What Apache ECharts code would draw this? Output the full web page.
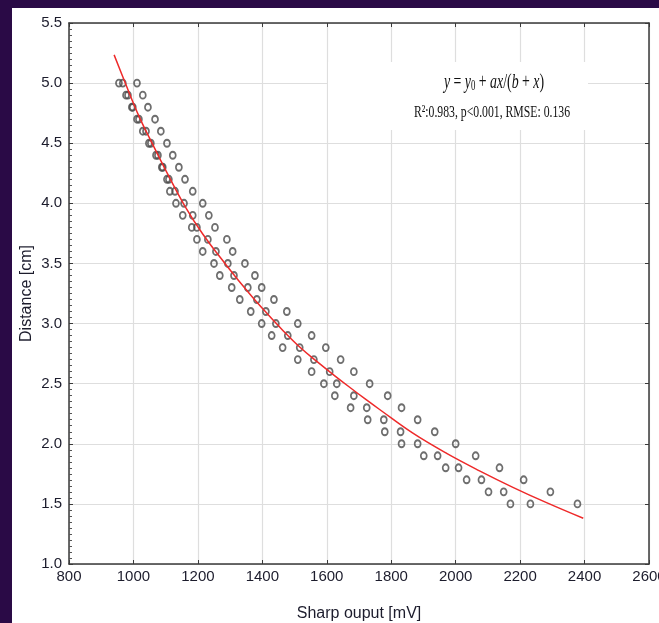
<!DOCTYPE html>
<html>
<head>
<meta charset="utf-8">
<script src="https://cdn.jsdelivr.net/npm/echarts@6/dist/echarts.min.js"></script>
<style>
html,body{margin:0;padding:0;background:#2a0a46;}
#chart{width:659px;height:623px;}
</style>
</head>
<body>
<div id="chart"></div>
<script>
// Distance levels [cm]
var distances = [5.0,4.9,4.8,4.7,4.6,4.5,4.4,4.3,4.2,4.1,4.0,3.9,3.8,3.7,3.6,3.5,3.4,3.3,3.2,3.1,3.0,2.9,2.8,2.7,2.6,2.5,2.4,2.3,2.2,2.1,2.0,1.9,1.8,1.7,1.6,1.5];
// Sharp sensor output [mV], three measurement runs
var sharpRun1 = [955,977,995,1011,1029,1048,1070,1088,1104,1113,1132,1153,1181,1197,1215,1250,1268,1305,1330,1364,1398,1429,1463,1510,1553,1591,1625,1674,1727,1780,1832,1901,1969,2034,2102,2170];
var sharpRun2 = [967,983,998,1017,1039,1054,1076,1091,1110,1129,1157,1184,1197,1231,1256,1293,1312,1355,1383,1411,1442,1479,1516,1560,1609,1631,1684,1724,1777,1829,1882,1944,2009,2080,2149,2232];
var sharpRun3 = [1011,1029,1045,1067,1085,1104,1122,1141,1160,1184,1215,1234,1253,1290,1308,1346,1377,1398,1436,1476,1510,1553,1597,1643,1684,1733,1789,1832,1882,1935,2000,2062,2136,2211,2294,2378];
// Fitted curve
var fitX = [940,974,1017,1057,1104,1160,1215,1284,1361,1414,1463,1516,1569,1618,1671,1718,1764,1866,1972,2074,2176,2282,2396];
var fitY = [5.235,5.005,4.725,4.505,4.255,3.975,3.745,3.50,3.245,3.085,2.945,2.805,2.685,2.58,2.47,2.375,2.285,2.09,1.92,1.775,1.64,1.51,1.38];
// Axis settings
var xTicks = {min:800, max:2600, interval:200};
var yTicks = {min:1.0, max:5.5, interval:0.5};
var xName = 'Sharp ouput [mV]';
var yName = 'Distance [cm]';
var formulaText = '{i|y}{n| = }{i|y}{s|0}{n| + }{i|ax}{n|/(}{i|b}{n| + }{i|x}{n|)}';
var statsText = 'R²:0.983, p<0.001, RMSE: 0.136';

function zip(xs, ys){ return xs.map(function(x,i){return [x, ys[i]];}); }

var tickFont = '"Liberation Sans Narrow","Arial Narrow","Liberation Sans",sans-serif';
var axisColor = '#3a3a3a';
var gridColor = '#dedede';
var labelColor = '#1c1c2c';

var chart = echarts.init(document.getElementById('chart'), null, {renderer:'canvas'});
var scatterStyle = {
  type:'scatter', symbol:'circle', symbolSize:[6,7],
  itemStyle:{color:'rgba(0,0,0,0)', borderColor:'#4a4a4a', borderWidth:1.8},
  silent:true, z:3
};
chart.setOption({
  backgroundColor:'#2a0a46',
  animation:false,
  graphic:[
    {type:'rect', z:-10, silent:true, shape:{x:12,y:8,width:660,height:620}, style:{fill:'#ffffff'}},
    {type:'rect', z:100, silent:true, shape:{x:328,y:62,width:260,height:68}, style:{fill:'#ffffff'}},
    {type:'text', z:101, silent:true, x:494, y:82, scaleX:0.63,
      style:{text:formulaText, align:'center', verticalAlign:'middle', fill:'#111',
        rich:{
          i:{fontFamily:'"Liberation Serif",serif', fontStyle:'italic', fontSize:22, fill:'#111'},
          n:{fontFamily:'"Liberation Serif",serif', fontSize:22, fill:'#111'},
          s:{fontFamily:'"Liberation Serif",serif', fontSize:14, fill:'#111', verticalAlign:'bottom', padding:[8,0,0,0]}
        }}},
    {type:'text', z:101, silent:true, x:492, y:113, scaleX:0.69,
      style:{text:statsText, align:'center', verticalAlign:'middle', fill:'#111',
        font:'17px "Liberation Serif", serif'}}
  ],
  grid:{left:69, top:23, right:10, bottom:59, show:false, outerBoundsMode:'none', containLabel:false},
  xAxis:[
    {type:'value', min:xTicks.min, max:xTicks.max, interval:xTicks.interval, position:'bottom',
      name:xName, nameLocation:'middle', nameGap:42, nameMoveOverlap:false,
      nameTextStyle:{fontFamily:tickFont, fontSize:16, color:labelColor},
      axisLine:{show:true, onZero:false, lineStyle:{color:axisColor, width:1.5}},
      axisTick:{show:true, inside:true, length:4, lineStyle:{color:axisColor}},
      axisLabel:{fontFamily:tickFont, fontSize:15, color:labelColor, margin:5, showMaxLabel:true, showMinLabel:true,
        formatter:function(v){return String(v);}},
      splitLine:{show:true, lineStyle:{color:gridColor, width:1.2}}},
    {type:'value', min:xTicks.min, max:xTicks.max, interval:xTicks.interval, position:'top',
      axisLine:{show:true, onZero:false, lineStyle:{color:axisColor, width:1.5}},
      axisTick:{show:true, inside:true, length:4, lineStyle:{color:axisColor}},
      axisLabel:{show:false}, splitLine:{show:false}}
  ],
  yAxis:[
    {type:'value', min:yTicks.min, max:yTicks.max, interval:yTicks.interval, position:'left',
      name:yName, nameLocation:'middle', nameGap:34, nameMoveOverlap:false,
      nameTextStyle:{fontFamily:tickFont, fontSize:16, color:labelColor},
      axisLine:{show:true, onZero:false, lineStyle:{color:axisColor, width:1.5}},
      axisTick:{show:true, inside:true, length:4, lineStyle:{color:axisColor}},
      minorTick:{show:true, splitNumber:10, length:3, lineStyle:{color:'#555'}},
      axisLabel:{fontFamily:tickFont, fontSize:15, color:labelColor, margin:7,
        formatter:function(v){return v.toFixed(1);}},
      splitLine:{show:true, lineStyle:{color:gridColor, width:1.2}}},
    {type:'value', min:yTicks.min, max:yTicks.max, interval:yTicks.interval, position:'right',
      axisLine:{show:true, onZero:false, lineStyle:{color:axisColor, width:1.5}},
      axisTick:{show:true, inside:true, length:4, lineStyle:{color:axisColor}},
      axisLabel:{show:false}, splitLine:{show:false}}
  ],
  series:[
    Object.assign({name:'Run 1', data:zip(sharpRun1, distances)}, scatterStyle),
    Object.assign({name:'Run 2', data:zip(sharpRun2, distances)}, scatterStyle),
    Object.assign({name:'Run 3', data:zip(sharpRun3, distances)}, scatterStyle),
    {name:'Fit', type:'line', data:zip(fitX, fitY), smooth:0.4, showSymbol:false, symbol:'none',
      lineStyle:{color:'#ee2a2a', width:1.5}, silent:true, z:4}
  ]
});
</script>
</body>
</html>
